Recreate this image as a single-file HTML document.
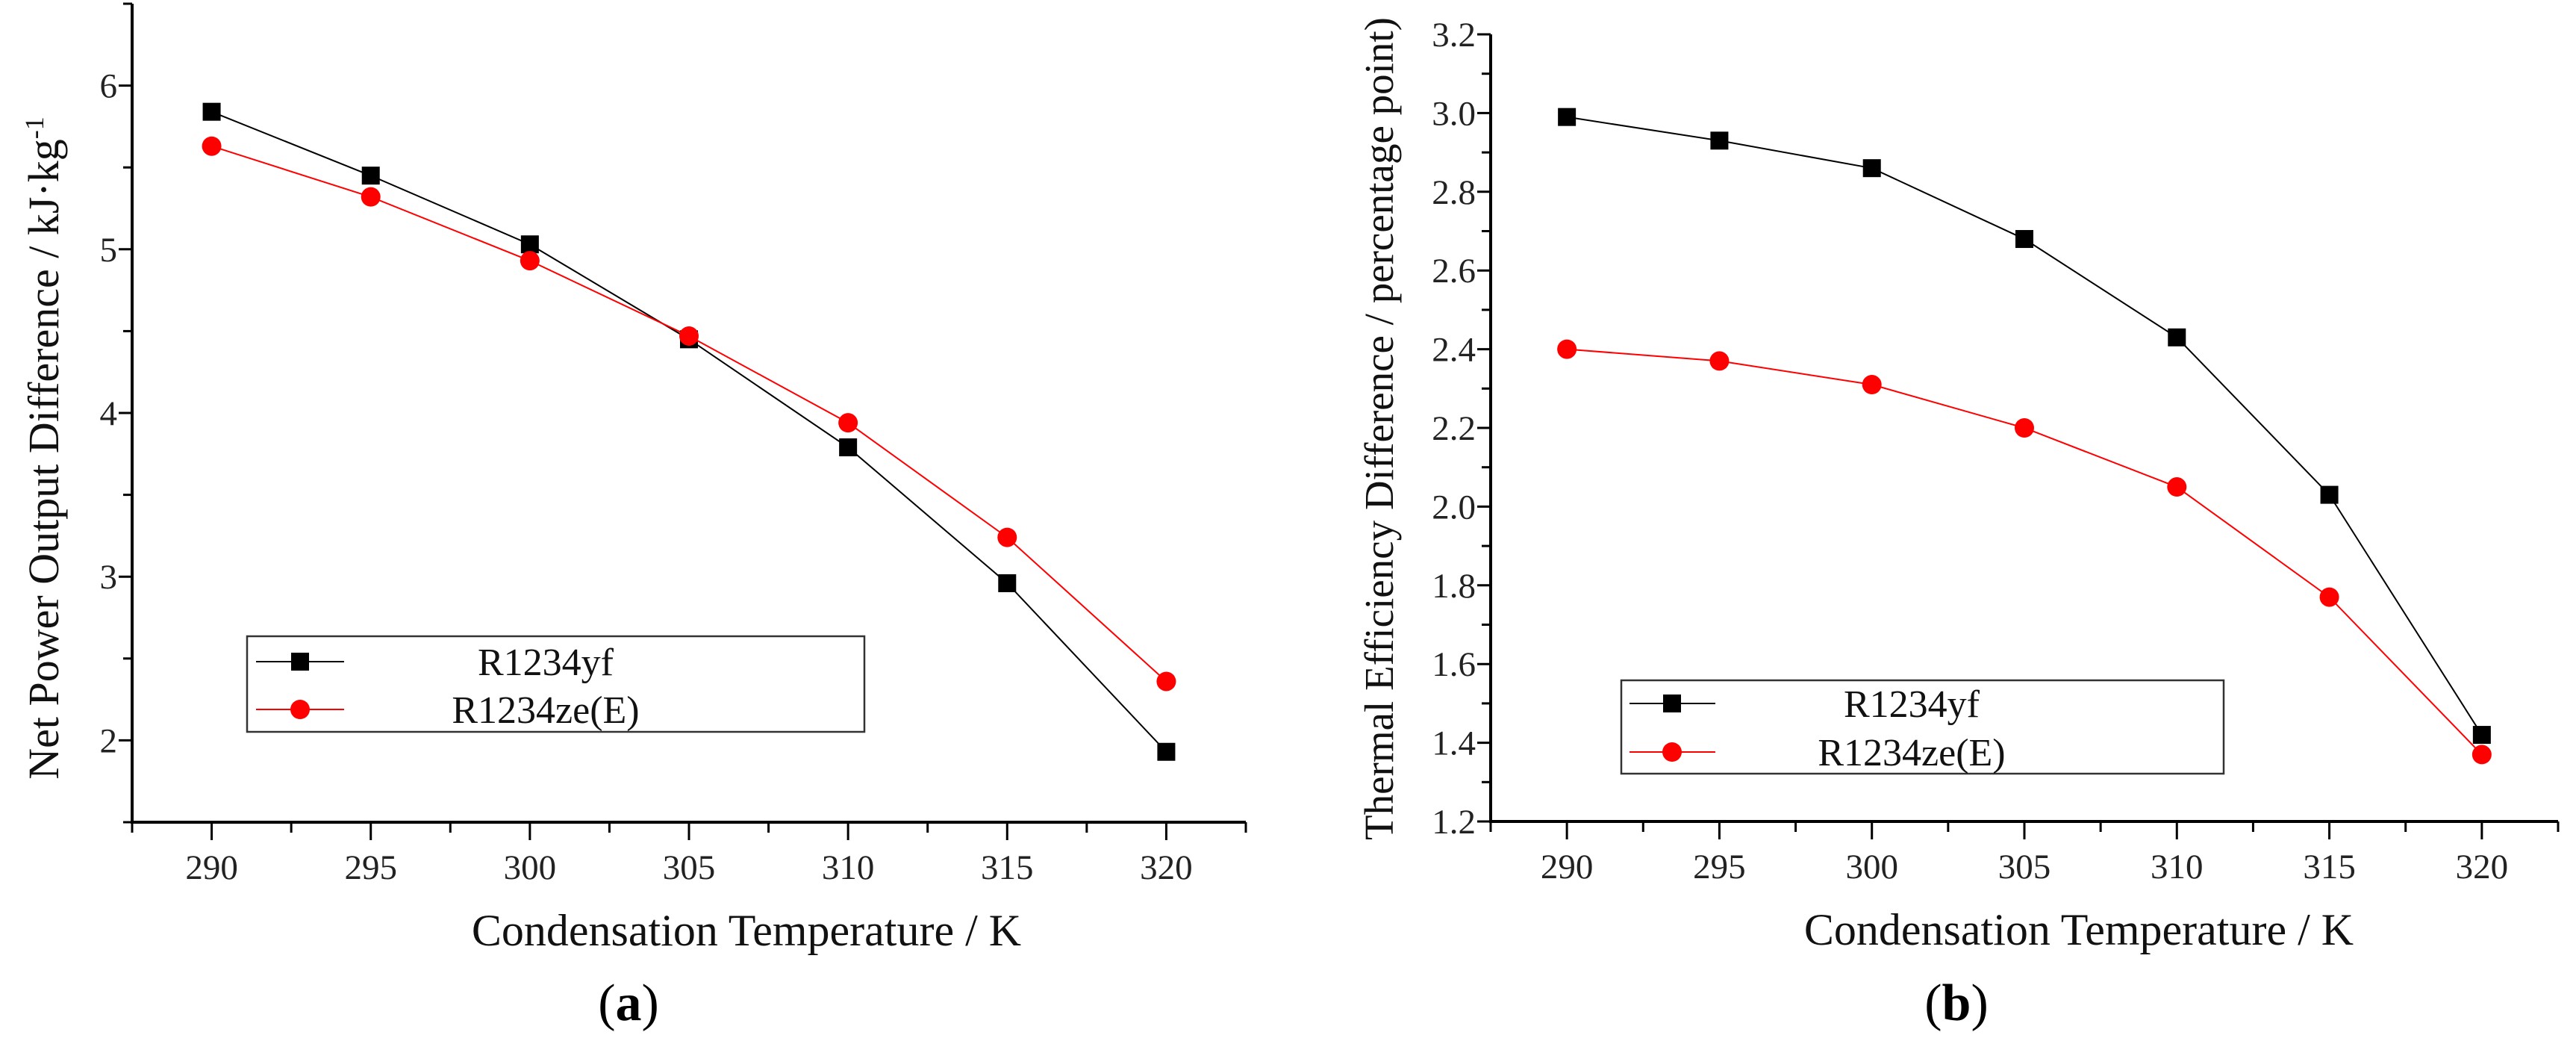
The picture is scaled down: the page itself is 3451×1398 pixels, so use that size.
<!DOCTYPE html>
<html><head><meta charset="utf-8"><style>
html,body{margin:0;padding:0;background:#fff;}
svg{display:block;font-family:"Liberation Serif",serif;}
</style></head><body>
<svg id="fig" width="3451" height="1398" viewBox="0 0 3451 1398" xmlns="http://www.w3.org/2000/svg"></svg>
<script>
const temps = [290, 295, 300, 305, 310, 315, 320];
const netYf = [5.84, 5.45, 5.03, 4.45, 3.79, 2.96, 1.93];
const netZe = [5.63, 5.32, 4.93, 4.47, 3.94, 3.24, 2.36];
const effYf = [2.99, 2.93, 2.86, 2.68, 2.43, 2.03, 1.42];
const effZe = [2.40, 2.37, 2.31, 2.20, 2.05, 1.77, 1.37];
const xTicks = [290, 295, 300, 305, 310, 315, 320];
const yTicksA = [2, 3, 4, 5, 6];
const yTicksB = [1.2, 1.4, 1.6, 1.8, 2.0, 2.2, 2.4, 2.6, 2.8, 3.0, 3.2];
const seriesNames = ["R1234yf", "R1234ze(E)"];

const NS = "http://www.w3.org/2000/svg";
const svg = document.getElementById("fig");
function mk(tag, attrs, parent, text) {
  const e = document.createElementNS(NS, tag);
  for (const k in attrs) e.setAttribute(k, attrs[k]);
  if (text !== undefined) e.textContent = text;
  (parent || svg).appendChild(e);
  return e;
}

function drawChart(cfg) {
  const g = mk("g", {});
  
  
  const xs = v => cfg.x0 + (v - cfg.xmin) / (cfg.xmax - cfg.xmin) * (cfg.x1 - cfg.x0);
  const ys = v => cfg.y0 - (v - cfg.ymin) / (cfg.ymax - cfg.ymin) * (cfg.y0 - cfg.y1);
  const ax = mk("path", {d: `M${cfg.x0},${cfg.y1} V${cfg.y0} H${cfg.x1}`, stroke: "#000", "stroke-width": 4, fill: "none"}, g);
  
  
  for (let v = cfg.xmin; v <= cfg.xmax + 0.001; v += 2.5) {
    const major = xTicks.includes(v);
    const t = mk("line", {x1: xs(v), x2: xs(v), y1: cfg.y0, y2: cfg.y0 + (major ? 24 : 14), stroke: "#000", "stroke-width": 3}, g);
    
    
  }
  xTicks.forEach(v => {
    const t = mk("text", {x: xs(v), y: cfg.y0 + 76, "text-anchor": "middle", "font-size": 47, fill: "#222"}, g, String(v));
    
    
  });
  for (let v = cfg.ymin; v <= cfg.ymax + 1e-6; v += cfg.minor) {
    const vv = Math.round(v * 1000) / 1000;
    const major = cfg.yTicks.some(t => Math.abs(t - vv) < 1e-6);
    const t = mk("line", {x1: cfg.x0 - (major ? 18 : 12), x2: cfg.x0, y1: ys(vv), y2: ys(vv), stroke: "#000", "stroke-width": 3}, g);
    
    
  }
  cfg.yTicks.forEach(v => {
    const t = mk("text", {x: cfg.x0 - 20, y: ys(v) + 16, "text-anchor": "end", "font-size": 47, fill: "#222"}, g, cfg.fmt(v));
    
    
  });
  const colors = ["#000", "#f00"];
  [cfg.s1, cfg.s2].forEach((s, i) => {
    const pts = temps.map((t, j) => xs(t) + "," + ys(s[j])).join(" ");
    const pl = mk("polyline", {points: pts, fill: "none", stroke: colors[i], "stroke-width": 2}, g);
    
    
    temps.forEach((t, j) => {
      let m;
      if (i === 0) m = mk("rect", {x: xs(t) - 12, y: ys(s[j]) - 12, width: 24, height: 24, fill: "#000"}, g);
      else m = mk("circle", {cx: xs(t), cy: ys(s[j]), r: 13, fill: "#f00"}, g);
      
      
    });
  });
  const L = cfg.legend;
  const lb = mk("rect", {x: L.x, y: L.y, width: L.w, height: L.h, fill: "#fff", stroke: "#333", "stroke-width": 2.5}, g);
  
  
  seriesNames.forEach((n, i) => {
    const yy = L.rows[i];
    const ln = mk("line", {x1: L.lx1, x2: L.lx2, y1: yy, y2: yy, stroke: colors[i], "stroke-width": 2}, g);
    
    
    let m;
    if (i === 0) m = mk("rect", {x: L.mx - 12, y: yy - 12, width: 24, height: 24, fill: "#000"}, g);
    else m = mk("circle", {cx: L.mx, cy: yy, r: 13, fill: "#f00"}, g);
    
    
    const tx = mk("text", {x: L.tx, y: yy + 18, "text-anchor": "middle", "font-size": 52, fill: "#111"}, g, n);
    
    
  });
  const xt = mk("text", {x: cfg.xtx, y: cfg.y0 + 165, "text-anchor": "middle", "font-size": 60, fill: "#111"}, g, "Condensation Temperature / K");
  
  
  const yt = mk("text", {x: 0, y: 0, "text-anchor": "middle", "font-size": cfg.ytSize, fill: "#111", transform: `translate(${cfg.ytx},${cfg.yty}) rotate(-90)`}, g);
  yt.innerHTML = cfg.ytitle;
  
  
  const pl = mk("text", {x: cfg.plx, y: 1366, "text-anchor": "middle", "font-size": 70, fill: "#000"}, g);
  pl.innerHTML = '(<tspan font-weight="bold">' + cfg.panel + '</tspan>)';
  
  
}

drawChart({
  name: "chart-a", x0: 177, x1: 1669, y0: 1101, y1: 5, xmin: 287.5, xmax: 322.5, ymin: 1.5, ymax: 6.5,
  minor: 0.5, yTicks: yTicksA, fmt: v => String(v), s1: netYf, s2: netZe,
  legend: {x: 331, y: 852, w: 827, h: 128, rows: [886, 950], lx1: 343, lx2: 461, mx: 402, tx: 731},
  xtx: 1000, ytx: 78, yty: 600, ytSize: 58,
  ytitle: 'Net Power Output Difference / kJ·kg<tspan baseline-shift="super" font-size="36">-1</tspan>',
  plx: 842, panel: "a"
});
drawChart({
  name: "chart-b", x0: 1997, x1: 3427, y0: 1100, y1: 46, xmin: 287.5, xmax: 322.5, ymin: 1.2, ymax: 3.2,
  minor: 0.1, yTicks: yTicksB, fmt: v => v.toFixed(1), s1: effYf, s2: effZe,
  legend: {x: 2172, y: 911, w: 807, h: 125, rows: [942, 1007], lx1: 2183, lx2: 2298, mx: 2240, tx: 2561},
  xtx: 2785, ytx: 1866, yty: 574, ytSize: 55,
  ytitle: 'Thermal Efficiency Difference / percentage point)',
  plx: 2621, panel: "b"
});
</script>
</body></html>
